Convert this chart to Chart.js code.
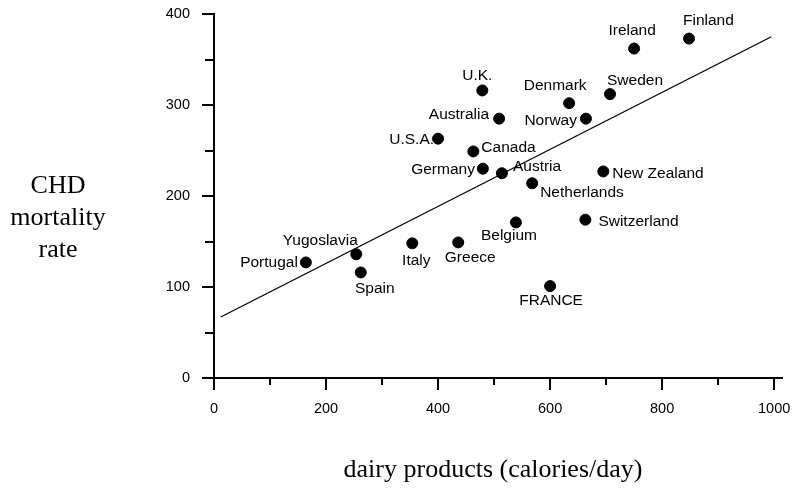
<!DOCTYPE html>
<html>
<head>
<meta charset="utf-8">
<script src="https://cdn.jsdelivr.net/npm/chart.js@4.4.1/dist/chart.umd.min.js"></script>
<style>
  html, body { margin: 0; padding: 0; background: #fff; }
  #wrap { width: 795px; height: 492px; }
</style>
</head>
<body>
<div id="wrap"><canvas id="chdChart" width="795" height="492"></canvas></div>
<script>
// data
const countries = ['Finland', 'Ireland', 'U.K.', 'Denmark', 'Sweden', 'Australia', 'Norway',
    'U.S.A.', 'Canada', 'Germany', 'Austria', 'Netherlands', 'New Zealand', 'Belgium',
    'Switzerland', 'Greece', 'Italy', 'Yugoslavia', 'Spain', 'Portugal', 'FRANCE'];
const dairyCalories = [848, 750, 479, 634, 707, 509, 664, 400, 463, 480, 514, 568, 695, 539,
    663, 436, 354, 254, 262, 164, 600];
const chdMortality = [373, 362, 316, 302, 312, 285, 285, 263, 249, 230, 225, 214, 227, 171,
    174, 149, 148, 136, 116, 127, 101];
// regression line end points
const fitX = [12, 995];
const fitY = [67, 375];
// label placement relative to its dot: [dx, dy, align]
const labelPlace = [
    [-6, -18, 'left'], [-2, -18, 'center'], [-5, -15, 'center'], [-14, -17, 'center'],
    [-3, -13, 'left'], [-10, -4, 'right'], [-9, 2, 'right'], [-4, 1, 'right'],
    [8, -4, 'left'], [-8, 1, 'right'], [11, -7, 'left'], [8, 9, 'left'], [9, 2, 'left'],
    [-7, 13, 'center'], [13, 2, 'left'], [12, 15, 'center'], [4, 17, 'center'],
    [-36, -14, 'center'], [14, 16, 'center'], [-8, 0, 'right'], [1, 15, 'center']
];

const points = dairyCalories.map((x, i) => ({ x: x, y: chdMortality[i] }));
const fitLine = fitX.map((x, i) => ({ x: x, y: fitY[i] }));

const sansFont = '"Liberation Sans", Arial, sans-serif';
const serifFont = '"Liberation Serif", "Times New Roman", serif';

// tick marks: long at labelled values, short in between
const tickPlugin = {
    id: 'axisTicks',
    afterDraw(chart) {
        const ctx = chart.ctx;
        const xs = chart.scales.x, ys = chart.scales.y;
        const area = chart.chartArea;
        ctx.save();
        ctx.strokeStyle = '#000';
        ctx.lineWidth = 2;
        xs.ticks.forEach(t => {
            const px = Math.round(xs.getPixelForValue(t.value));
            const len = t.value % 200 === 0 ? 12 : 7;
            ctx.beginPath();
            ctx.moveTo(px, area.bottom);
            ctx.lineTo(px, area.bottom + len);
            ctx.stroke();
        });
        ys.ticks.forEach(t => {
            const py = Math.round(ys.getPixelForValue(t.value));
            const len = t.value % 100 === 0 ? 12 : 9;
            ctx.beginPath();
            ctx.moveTo(area.left - len, py);
            ctx.lineTo(area.left, py);
            ctx.stroke();
        });
        ctx.restore();
    }
};

// country names next to the dots, and the axis titles
const labelPlugin = {
    id: 'countryLabels',
    afterDatasetsDraw(chart) {
        const ctx = chart.ctx;
        const meta = chart.getDatasetMeta(0);
        ctx.save();
        ctx.fillStyle = '#000';
        ctx.font = '15.5px ' + sansFont;
        ctx.textBaseline = 'middle';
        meta.data.forEach((pt, i) => {
            const p = labelPlace[i];
            ctx.textAlign = p[2];
            ctx.fillText(countries[i], pt.x + p[0], pt.y + p[1]);
        });

        ctx.font = '26px ' + serifFont;
        ctx.textAlign = 'center';
        ctx.fillText('CHD', 58, 186);
        ctx.fillText('mortality', 58, 218);
        ctx.fillText('rate', 58, 250);
        ctx.fillText('dairy products (calories/day)', 493, 470);
        ctx.restore();
    }
};

// keep the plot box where the reference has it
function noLabelPadding(s) {
    s.paddingTop = 0;
    s.paddingBottom = 0;
    s.paddingLeft = 0;
    s.paddingRight = 0;
}

const ctx = document.getElementById('chdChart').getContext('2d');
const chdChart = new Chart(ctx, {
    type: 'scatter',
    data: {
        datasets: [{
            label: 'countries',
            data: points,
            backgroundColor: '#000',
            borderColor: '#000',
            pointRadius: 5.5,
            pointHoverRadius: 5.5
        }, {
            label: 'fit',
            data: fitLine,
            showLine: true,
            borderColor: '#000',
            borderWidth: 1.3,
            pointRadius: 0,
            fill: false
        }]
    },
    options: {
        responsive: false,
        animation: false,
        events: [],
        layout: { padding: { left: 0, top: 14, right: 13, bottom: 0 } },
        plugins: {
            legend: { display: false },
            tooltip: { enabled: false }
        },
        scales: {
            x: {
                type: 'linear',
                min: 0,
                max: 1014,
                afterFit: s => { s.height = 114; noLabelPadding(s); },
                border: { display: true, color: '#000', width: 2 },
                grid: { drawOnChartArea: false, drawTicks: true, tickLength: 12, color: 'rgba(0,0,0,0)' },
                ticks: {
                    stepSize: 100,
                    includeBounds: false,
                    autoSkip: false,
                    maxRotation: 0,
                    padding: 10,
                    color: '#000',
                    font: { family: sansFont, size: 14.5 },
                    callback: v => (v % 200 === 0 ? String(v) : '')
                }
            },
            y: {
                min: 0,
                max: 400,
                afterFit: s => { s.width = 214; noLabelPadding(s); },
                border: { display: true, color: '#000', width: 2 },
                grid: { drawOnChartArea: false, drawTicks: true, tickLength: 12, color: 'rgba(0,0,0,0)' },
                ticks: {
                    stepSize: 50,
                    autoSkip: false,
                    padding: 12,
                    color: '#000',
                    font: { family: sansFont, size: 14.5 },
                    callback: v => (v % 100 === 0 ? String(v) : '')
                }
            }
        }
    },
    plugins: [tickPlugin, labelPlugin]
});
</script>
</body>
</html>
